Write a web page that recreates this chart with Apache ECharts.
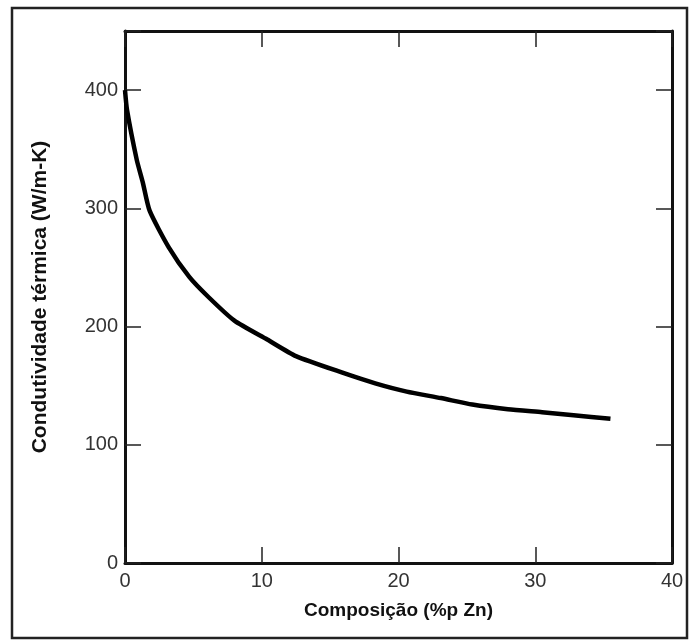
<!DOCTYPE html>
<html>
<head>
<meta charset="utf-8">
<script src="https://cdn.jsdelivr.net/npm/echarts@6/dist/echarts.min.js"></script>
<style>
  html, body { margin: 0; padding: 0; background: #fff; }
  #chart { width: 690px; height: 642px; }
</style>
</head>
<body>
<div id="chart"></div>
<script>
// composição (%p Zn) e condutividade térmica (W/m-K)
var zn = [0, 0.15, 0.86, 1.3, 1.8, 3.2, 4.7, 6.1, 8.0, 10.4, 12.5, 15.9, 18.3, 20.6, 23.1, 25.4, 28, 30.5, 32.8, 35.5]
var condutividade = [400, 383, 341, 322, 298, 267, 242, 225, 205, 189, 175, 161, 152, 145, 139.5, 134, 130, 127.5, 125, 122]
var xTicks = [0, 10, 20, 30, 40]
var yTicks = [0, 100, 200, 300, 400]

var points = zn.map(function (x, i) { return [x, condutividade[i]] })

var font = '"Liberation Sans", Arial, sans-serif'
var axisLine = { show: true, onZero: false, lineStyle: { color: '#111', width: 3 } }
var tick = { show: true, inside: true, length: 16, lineStyle: { color: '#222', width: 1.5 } }

var chart = echarts.init(document.getElementById('chart'))
chart.setOption({
    animation: false,
    grid: { left: 125, top: 31, right: 18, bottom: 79 },
    graphic: [{
        type: 'rect',
        shape: { x: 12, y: 8, width: 675, height: 630 },
        style: { fill: 'none', stroke: '#222', lineWidth: 2.5 }
    }],
    xAxis: [
        {
            type: 'value',
            min: xTicks[0],
            max: xTicks[xTicks.length - 1],
            interval: 10,
            name: 'Composição (%p Zn)',
            nameLocation: 'middle',
            nameGap: 38,
            nameTextStyle: { fontFamily: font, fontSize: 19, fontWeight: 'bold', color: '#111' },
            axisLine: axisLine,
            axisTick: tick,
            splitLine: { show: false },
            axisLabel: { fontFamily: font, fontSize: 20, color: '#333', margin: 8 }
        },
        {
            type: 'value',
            position: 'top',
            min: xTicks[0],
            max: xTicks[xTicks.length - 1],
            interval: 10,
            axisLine: axisLine,
            axisTick: tick,
            splitLine: { show: false },
            axisLabel: { show: false }
        }
    ],
    yAxis: [
        {
            type: 'value',
            min: 0,
            max: 450,
            interval: 100,
            name: 'Condutividade térmica (W/m-K)',
            nameLocation: 'middle',
            nameGap: 74,
            nameTextStyle: { fontFamily: font, fontSize: 21, fontWeight: 'bold', color: '#111' },
            axisLine: axisLine,
            axisTick: tick,
            splitLine: { show: false },
            axisLabel: {
                fontFamily: font, fontSize: 20, color: '#333', margin: 7,
                formatter: function (v) { return yTicks.indexOf(v) >= 0 ? String(v) : '' }
            }
        },
        {
            type: 'value',
            position: 'right',
            min: 0,
            max: 450,
            interval: 100,
            axisLine: axisLine,
            axisTick: tick,
            splitLine: { show: false },
            axisLabel: { show: false }
        }
    ],
    series: [{
        type: 'line',
        data: points,
        showSymbol: false,
        smooth: 0.2,
        lineStyle: { color: '#000', width: 4.5 }
    }]
})
</script>
</body>
</html>
